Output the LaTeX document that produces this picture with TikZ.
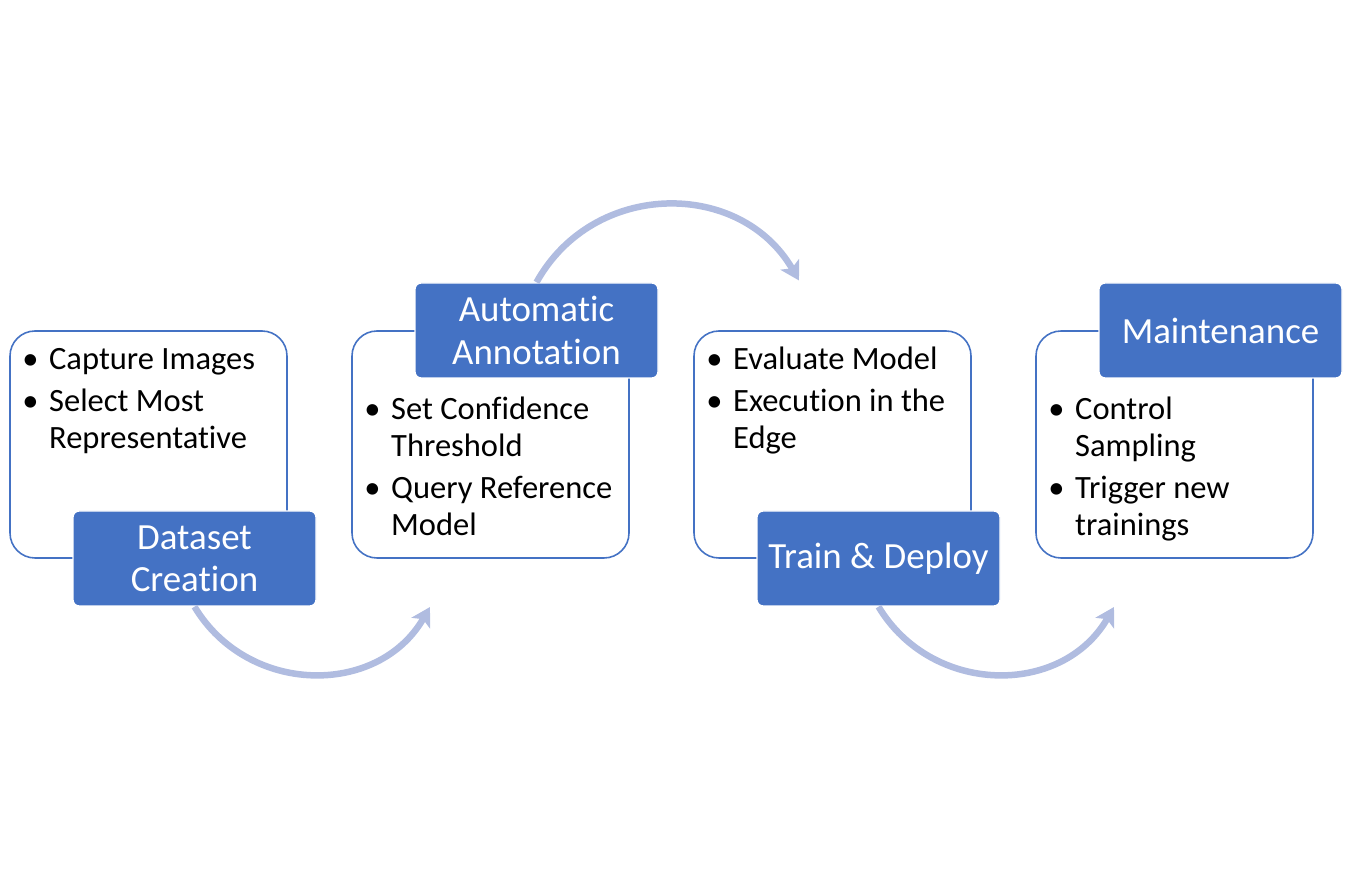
\documentclass[tikz,border=0pt]{standalone}
\usepackage{fontspec}
\setmainfont{Carlito}[Ligatures={NoCommon,NoContextual,NoRare}]
\usetikzlibrary{arrows.meta}

\definecolor{stageblue}{HTML}{4472C4}
\definecolor{arrowblue}{HTML}{B0BCE0}

% bullet list: bullet column + text column
\newcommand{\itembullet}{\hspace*{-2.3pt}\textbullet}
\newcommand{\bulletlist}[1]{\begin{tabular}{@{}p{13pt}@{}l@{}}#1\end{tabular}}

\tikzset{
  stagebox/.style={draw=stageblue, line width=0.9pt, rounded corners=0.5cm,
    fill=white, minimum width=5.54cm, minimum height=4.54cm},
  stagelabel/.style={fill=stageblue, draw=white, line width=0.8pt,
    rounded corners=0.12cm, text=white, minimum width=4.86cm,
    minimum height=1.9cm, align=center, inner sep=0pt,
    font=\fontsize{21}{24}\selectfont},
  stageitems/.style={anchor=north west, inner sep=0pt,
    font=\fontsize{18.5}{21}\selectfont},
  flowarrow/.style={draw=arrowblue, line width=3.7pt,
    -{Stealth[length=10.5pt,width=12pt,inset=2.5pt]}}
}

\begin{document}
\begin{tikzpicture}

    % Page frame: keeps the margins of the figure
    \useasboundingbox (0,0) rectangle (26.9,17.78);

    % The four outlined stage boxes, side by side
    \node[stagebox] (dsbox) at (2.97,8.89) {};
    \node[stagebox] (aabox) at (9.81,8.89) {};
    \node[stagebox] (tdbox) at (16.65,8.89) {};
    \node[stagebox] (mtbox) at (23.49,8.89) {};

    % Bullet items inside each box
    \node[stageitems] (dsitems) at (0.52,10.92)
      {\bulletlist{\itembullet & Capture Images\\[3pt]
                   \itembullet & Select Most\\ & Representative}};
    \node[stageitems] (aaitems) at (7.36,9.92)
      {\bulletlist{\itembullet & Set Confidence\\ & Threshold\\[3pt]
                   \itembullet & Query Reference\\ & Model}};
    \node[stageitems] (tditems) at (14.2,10.92)
      {\bulletlist{\itembullet & Evaluate Model\\[3pt]
                   \itembullet & Execution in the\\ & Edge}};
    \node[stageitems] (mtitems) at (21.04,9.92)
      {\bulletlist{\itembullet & Control\\ & Sampling\\[3pt]
                   \itembullet & Trigger new\\ & trainings}};

    % Filled title tabs, alternating below and above the boxes
    \node[stagelabel] (dslabel) at (3.89,6.61) {Dataset\\Creation};
    \node[stagelabel] (aalabel) at (10.73,11.17) {Automatic\\Annotation};
    \node[stagelabel] (tdlabel) at (17.57,6.61) {Train \& Deploy};
    \node[stagelabel] (mtlabel) at (24.41,11.17) {Maintenance};

    % Free ends of the curved arrows
    \coordinate (flowend1) at (8.6,5.64);
    \coordinate (flowend2) at (15.98,12.17);
    \coordinate (flowend3) at (22.28,5.64);

    % Curved arrows from one stage to the next
    \draw[flowarrow] (dslabel.south) to[out=-59, in=-120, looseness=1.13] (flowend1);
    \draw[flowarrow] (aalabel.north) to[out=61, in=120, looseness=1.14] (flowend2);
    \draw[flowarrow] (tdlabel.south) to[out=-59, in=-120, looseness=1.13] (flowend3);

\end{tikzpicture}
\end{document}
